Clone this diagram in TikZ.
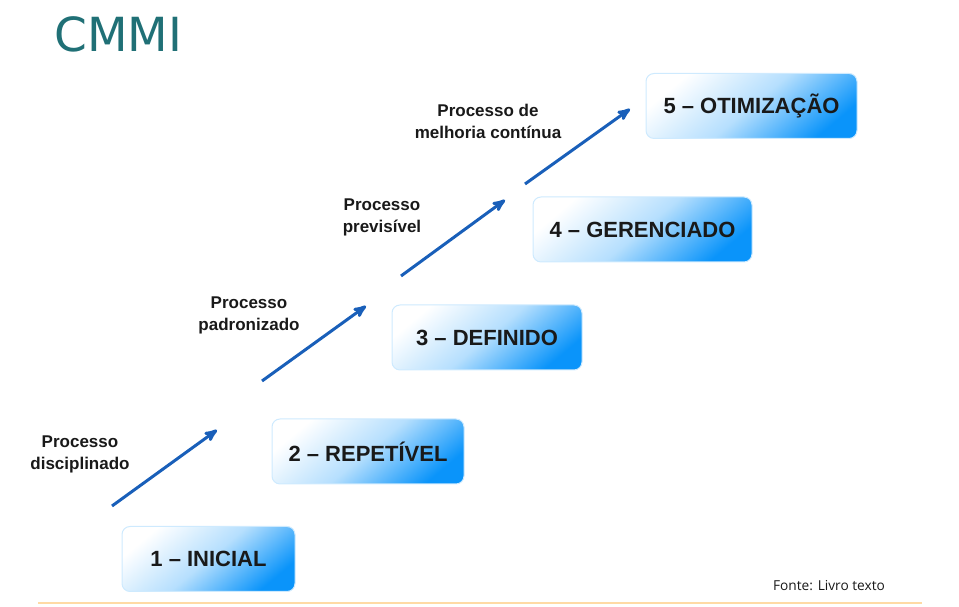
\documentclass[tikz,border=0pt]{standalone}
\usepackage{fontspec}
\setmainfont{Liberation Sans}
\newfontfamily\titlefont{DejaVu Sans}
\newfontfamily\notefont{Open Sans}
\usepackage{tikz}
\usetikzlibrary{
        arrows,
        positioning
    }
\definecolor{cmmiteal}{RGB}{32,112,118}
\definecolor{boxblue}{RGB}{10,148,250}
\definecolor{arrowblue}{RGB}{25,95,185}
\definecolor{lineorange}{RGB}{255,218,165}
\definecolor{inkdark}{RGB}{25,25,25}
\tikzset{>=stealth',x=1pt,y=1pt}
\tikzset{
    level/.style={rounded corners=8pt,draw=boxblue!20,line width=1pt,
        top color=white,bottom color=boxblue,middle color=boxblue!30,
        shading angle=40,minimum height=65pt,text=inkdark,
        font=\bfseries\fontsize{22}{24}\selectfont},
    stepname/.style={align=center,text=inkdark,
        font=\bfseries\fontsize{17}{22}\selectfont},
    stairs/.style={->,line width=3pt,arrowblue}
}

\begin{document}
\begin{tikzpicture}
    \useasboundingbox (0,0) rectangle (959,607);
    % titulo
    \node[anchor=west,text=cmmiteal,font=\titlefont\fontsize{47}{47}\selectfont] (title) at (51,573) {CMMI};
    % niveis
    \node[level,minimum width=173pt] (inicial)    at (208.5,48)  {1 -- INICIAL};
    \node[level,minimum width=192pt] (repetivel)  at (368,155.5) {2 -- REPETÍVEL};
    \node[level,minimum width=190pt] (definido)   at (487,269.5) {3 -- DEFINIDO};
    \node[level,minimum width=219pt] (gerenciado) at (642.5,377.5) {4 -- GERENCIADO};
    \node[level,minimum width=211pt] (otimizacao) at (751.5,501) {5 -- OTIMIZAÇÃO};
    % setas
    \coordinate (s1) at (112,101); \coordinate (e1) at (217,177);
    \coordinate (s2) at (262,226); \coordinate (e2) at (366,301);
    \coordinate (s3) at (401,331); \coordinate (e3) at (505,407);
    \coordinate (s4) at (525,423); \coordinate (e4) at (630,498);
    \draw[stairs] (s1) -- (e1);
    \draw[stairs] (s2) -- (e2);
    \draw[stairs] (s3) -- (e3);
    \draw[stairs] (s4) -- (e4);
    % rotulos
    \node[stepname] (disc) at (80,153)  {Processo\\disciplinado};
    \node[stepname] (padr) at (249,292) {Processo\\padronizado};
    \node[stepname] (prev) at (382,390) {Processo\\previsível};
    \node[stepname] (melh) at (488,486) {Processo de\\melhoria contínua};
    % fonte
    \node[font=\notefont\fontsize{13.7}{15}\selectfont,text=inkdark] (fonte) at (829,21) {Fonte: Livro texto};
    \coordinate (la) at (38,4); \coordinate (lb) at (922,4);
    \draw[lineorange,line width=2pt] (la) -- (lb);
\end{tikzpicture}
\end{document}
